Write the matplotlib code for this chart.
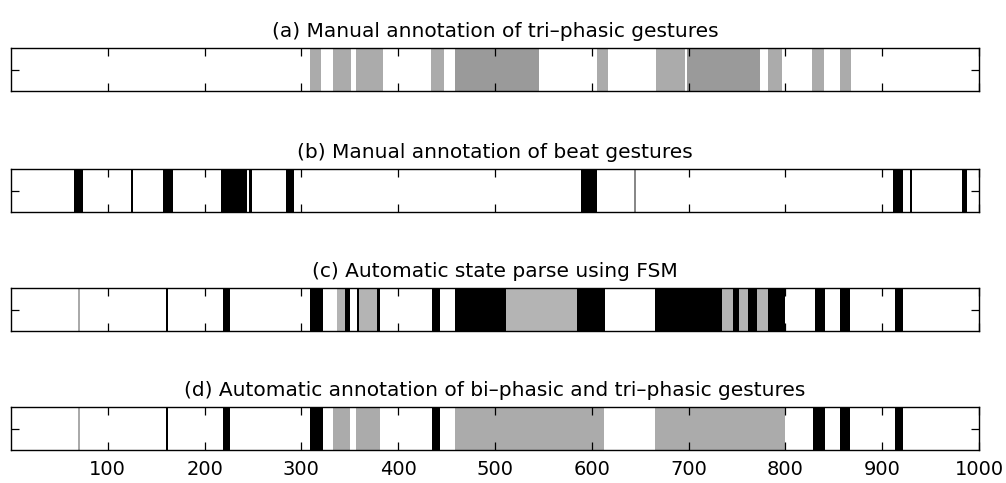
import numpy as np
import matplotlib.pyplot as plt

plt.rcParams['font.family'] = ['DejaVu Sans']

# intervals, in frame units (0-1000)
titles = [
    "(a) Manual annotation of tri\u2013phasic gestures",
    "(b) Manual annotation of beat gestures",
    "(c) Automatic state parse using FSM",
    "(d) Automatic annotation of bi\u2013phasic and tri\u2013phasic gestures",
]

# (a) manual tri-phasic: light gray and darker gray segments
tri_light = [(309, 320), (333, 351), (356, 384), (434, 447), (605, 617),
             (666, 696), (782, 797), (827, 840), (856, 868)]
tri_dark = [(459, 545), (698, 774)]

# (b) manual beats
beat_black = [(65, 74), (124, 126), (157, 167), (217, 244), (246, 249),
              (284, 292), (589, 605), (911, 922), (929, 931), (982, 988)]
beat_faint = [(644, 646)]

# (c) FSM state parse
fsm_black = [(160, 162), (219, 226), (309, 322), (345, 350), (357, 360),
             (378, 381), (435, 443), (459, 511), (585, 614), (665, 735),
             (746, 752), (761, 771), (782, 800), (831, 841), (856, 867),
             (913, 922)]
fsm_gray = [(337, 345), (360, 378), (511, 585), (735, 746), (752, 761),
            (771, 782)]
fsm_faint = [(69, 71)]

# (d) automatic bi-/tri-phasic
auto_black = [(160, 162), (219, 226), (309, 322), (435, 443), (829, 841),
              (856, 867), (913, 922)]
auto_gray = [(333, 350), (356, 381), (459, 613), (665, 800)]
auto_faint = [(69, 71)]

xticks = [100, 200, 300, 400, 500, 600, 700, 800, 900, 1000]

panels = [
    [(tri_light, '#ababab'), (tri_dark, '#9a9a9a')],
    [(beat_black, 'black'), (beat_faint, '#888888')],
    [(fsm_gray, '#b4b4b4'), (fsm_black, 'black'), (fsm_faint, '#aaaaaa')],
    [(auto_gray, '#ababab'), (auto_black, 'black'), (auto_faint, '#aaaaaa')],
]

fig = plt.figure(figsize=(10.06, 4.83), dpi=100)
W, H = 1006, 483
tops = [48, 169, 288, 407]
for i, top in enumerate(tops):
    ax = fig.add_axes([11 / W, 1 - (top + 43) / H, 968 / W, 43 / H])
    for spans, col in panels[i]:
        for s, e in spans:
            ax.axvspan(s, e, color=col, lw=0)
    ax.set_xlim(0, 1000)
    ax.set_ylim(0, 1)
    ax.set_xticks(xticks)
    ax.set_yticks([0.5])
    ax.set_yticklabels([])
    ax.tick_params(direction='in', length=6, width=0.9, top=True, right=True,
                   labelsize=14)
    if i < 3:
        ax.set_xticklabels([])
    else:
        ax.tick_params(axis='x', pad=7)
    for sp in ax.spines.values():
        sp.set_linewidth(1.0)
    ax.set_title(titles[i], fontsize=14.5, pad=8)

fig.savefig('out.png', dpi=100)
